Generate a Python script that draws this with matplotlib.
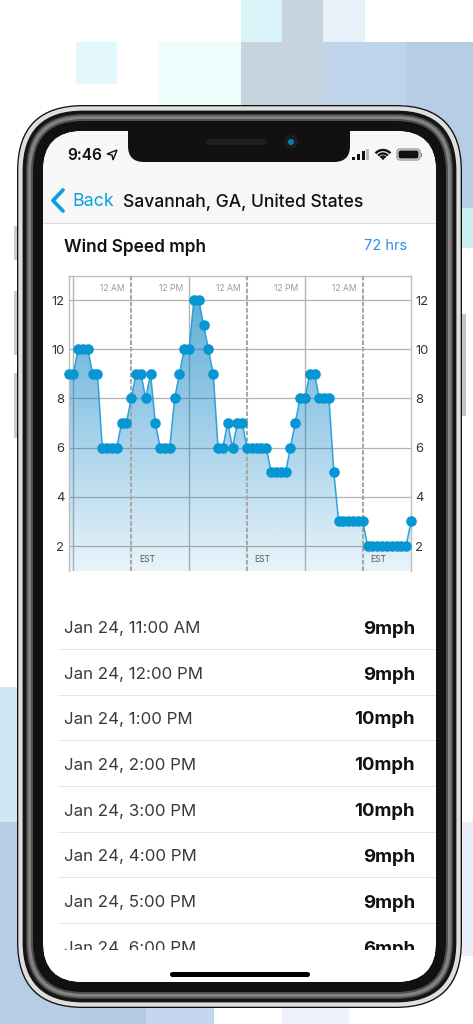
import numpy as np
import matplotlib
matplotlib.use("Agg")
import matplotlib.pyplot as plt
from matplotlib.patches import FancyBboxPatch, Rectangle, Polygon, Circle, Arc

plt.rcParams['font.family'] = ['Inter', 'DejaVu Sans']

# one reading per hour, starting Jan 24 11:00 AM
wind_speed = [9, 9, 10, 10, 10, 9, 9, 6, 6, 6, 6, 7, 7, 8, 9, 9, 8, 9, 7, 6, 6, 6, 8, 9,
              10, 10, 12, 12, 11, 10, 9, 6, 6, 7, 6, 7, 7, 6, 6, 6, 6, 6, 5, 5, 5, 5, 6, 7,
              8, 8, 9, 9, 8, 8, 8, 5, 3, 3, 3, 3, 3, 3, 2, 2, 2, 2, 2, 2, 2, 2, 2, 3]
noon_hours = [1, 25, 49]
midnight_hours = [13, 37, 61]
y_ticks = [2, 4, 6, 8, 10, 12]
top_labels = [(13, '12 AM'), (25, '12 PM'), (37, '12 AM'), (49, '12 PM'), (61, '12 AM')]
row_times = ['Jan 24, 11:00 AM', 'Jan 24, 12:00 PM', 'Jan 24, 1:00 PM', 'Jan 24, 2:00 PM',
             'Jan 24, 3:00 PM', 'Jan 24, 4:00 PM', 'Jan 24, 5:00 PM', 'Jan 24, 6:00 PM']
row_speeds = wind_speed[:8]

W, H = 473, 1024
fig = plt.figure(figsize=(W / 100, H / 100), dpi=100, facecolor='white')

# full page axes in pixels for the phone mockup
page = fig.add_axes([0, 0, 1, 1])
page.set_xlim(0, W)
page.set_ylim(H, 0)
page.axis('off')


def px(size):
    return size * 0.72


def rect(x0, y0, x1, y1, color, z=1):
    r = Rectangle((x0, y0), x1 - x0, y1 - y0, facecolor=color, edgecolor='none', zorder=z)
    page.add_patch(r)
    return r


def rbox(x0, y0, x1, y1, radius, color, z=2):
    b = FancyBboxPatch((x0, y0), x1 - x0, y1 - y0, boxstyle=f"round,pad=0,rounding_size={radius}",
                       facecolor=color, edgecolor='none', zorder=z)
    page.add_patch(b)
    return b


def label(x, y, s, size, color='black', ha='left', weight='normal', z=8):
    return page.text(x, y, s, fontsize=px(size), color=color, ha=ha, va='center_baseline',
                     fontweight=weight, zorder=z)


# background tiles
for t in [(241, 0, 282, 42, '#d9f4f8'), (282, 0, 323, 42, '#c6d4de'), (323, 0, 365, 42, '#e8f1f9'),
          (76, 42, 117, 84, '#e3f8fb'), (158, 42, 241, 105, '#eefcfc'), (241, 42, 323, 105, '#c6d4de'),
          (323, 42, 406, 105, '#bfd3ea'), (406, 42, 473, 208, '#b7cce5'), (462, 208, 473, 248, '#c9f0f0'),
          (0, 687, 17, 822, '#cfe8f5'), (0, 822, 79, 1024, '#b7cce5'), (79, 960, 146, 1024, '#b5cbe2'),
          (146, 960, 214, 1024, '#c5d7ee'), (282, 1000, 349, 1024, '#edf2fb'), (462, 822, 473, 956, '#e8effa')]:
    rect(*t)

# side buttons
for y0, y1 in [(226, 260), (291, 355), (373, 438)]:
    rect(13.5, y0, 18, y1, '#cccccc')
rect(461, 314, 466, 416, '#c4c4c4')

# bezel rings, outside in
L, T, R, B = 17, 105, 462, 1008
for inset, c in [(0, '#111111'), (1.3, '#dedede'), (5.6, '#141414'), (9, '#444444'), (10.5, '#777777'),
                 (12, '#858585'), (14, '#505050'), (16, '#111111')]:
    rbox(L + inset, T + inset, R - inset, B - inset, 66 - inset, c, z=2)
screen = rbox(43, 131, 436, 982, 40, 'white', z=3)

# nav bar
nav = rect(43, 131, 436, 223, '#f7f7f7', z=4)
nav.set_clip_path(screen)
rect(43, 223, 436, 224, '#dcdcdc', z=4)

# notch, speaker, camera
rbox(128, 122, 350, 162, 16, '#111111', z=5)
rect(128, 122, 350, 140, '#111111', z=5)
rbox(206, 139, 267, 145, 3, '#1e1e1e', z=6)
page.add_patch(Circle((291, 142), 7, facecolor='#1a1d22', edgecolor='none', zorder=6))
page.add_patch(Circle((291, 142), 3, facecolor='#0a7fa8', edgecolor='none', zorder=7))

# status bar
label(67, 154, '9:46', 15.5, '#111111', weight='semibold')
page.add_patch(Polygon([(107, 154), (117, 150), (113, 160), (112, 155)], closed=True, facecolor='none',
                       edgecolor='#111111', lw=1, zorder=8))
for x0, y0, c in [(352, 157, '#111111'), (357, 154, '#111111'), (362, 151, '#111111'), (366, 149, '#bbbbbb')]:
    rect(x0, y0, x0 + 3.2, 160, c, z=8)
for d in [20, 13, 7]:
    page.add_patch(Arc((383, 160), d, d, theta1=222, theta2=318, color='#111111', lw=1.7, zorder=8))
page.add_patch(Circle((383, 158.5), 1.3, facecolor='#111111', edgecolor='none', zorder=8))
b = rbox(397, 149, 420, 160, 3, 'none', z=8)
b.set_edgecolor('#888888')
b.set_linewidth(0.8)
rbox(398.5, 150.5, 418.5, 158.5, 2, '#111111', z=9)
rect(421, 152.5, 422, 156.5, '#888888', z=8)

# nav title
page.plot([63, 53, 63], [190, 200.5, 211], color='#0aa0dc', lw=2.7, solid_capstyle='round', zorder=8)
label(72, 200, 'Back', 17.8, '#0aa0dc')
label(123, 200, 'Savannah, GA, United States', 17.5, '#111111', weight='medium')

# chart heading
label(64, 245, 'Wind Speed mph', 17.3, '#111111', weight='semibold')
label(407, 245, '72 hrs', 14.5, '#2b8ef0', ha='right')

# hourly rows
row_y = [627, 673, 718, 764, 810, 855, 901, 947]
for i in range(len(row_times)):
    label(64, row_y[i], row_times[i], 16.9, '#3a3a3a')
    label(415, row_y[i], f'{row_speeds[i]}mph', 18.5, '#111111', ha='right', weight='bold')
    if i < len(row_times) - 1:
        rect(58, row_y[i] + 21.5, 436, row_y[i] + 22.5, '#e6e6e6', z=4)
rect(43, 950, 436, 982, 'white', z=9).set_clip_path(screen)
rbox(170, 972, 310, 977, 2.5, 'black', z=10)

# chart
ax = fig.add_axes([68.5 / W, 1 - 571 / H, (411 - 68.5) / W, (571 - 276) / H], zorder=5)
ax.patch.set_alpha(0)
hours = np.arange(len(wind_speed))
y_min, y_max = 0.984, 12.976

for s in ['left', 'right', 'top']:
    ax.spines[s].set_color('#bdbdbd')
    ax.spines[s].set_linewidth(1)
ax.spines['bottom'].set_visible(False)

ax.set_yticks(y_ticks)
ax.set_xticks([])
ax.tick_params(axis='y', length=0, labelsize=px(13), labelcolor='#333333', left=False, right=False,
               labelleft=True, labelright=True, pad=3)
ax.grid(axis='y', color='#b2b2b2', lw=0.9, zorder=1)
ax.set_axisbelow(True)

for h in noon_hours:
    ax.axvline(h, color='#b4b4b4', lw=1, zorder=1)
for h in midnight_hours:
    ax.axvline(h, color='#a8a8a8', lw=1.5, ls=(0, (2.2, 0.9)), zorder=4)

# vertical gradient under the line
alpha = np.linspace(0.67, 0.09, 256)
grad = np.zeros((256, 1, 4))
grad[:, 0, 0] = 0 / 255
grad[:, 0, 1] = 125 / 255
grad[:, 0, 2] = 195 / 255
grad[:, 0, 3] = alpha
im = ax.imshow(grad, extent=(0, len(wind_speed) - 1, y_min, y_max), origin='upper', aspect='auto', zorder=2)
area = Polygon(np.column_stack([np.r_[hours, hours[-1], 0], np.r_[wind_speed, y_min, y_min]]),
               closed=True, facecolor='none', edgecolor='none')
ax.add_patch(area)
im.set_clip_path(area)

ax.plot(hours, wind_speed, color='#2ba2da', lw=1.1, zorder=5, clip_on=False)
ax.plot(hours, wind_speed, ls='none', marker='o', ms=7.6, mfc='#0596d3', mec='none', zorder=6, clip_on=False)

for h, s in top_labels:
    ax.annotate(s, xy=(h, 12.45), xytext=(-4.5, 0), textcoords='offset points', ha='right', va='center',
                fontsize=px(8.6), color='#9a9a9a')
for h in midnight_hours:
    ax.annotate('EST', xy=(h, 1.47), xytext=(5.5, 0), textcoords='offset points', ha='left', va='center',
                fontsize=px(8.5), color='#555555')

ax.set_xlim(0, len(wind_speed) - 1)
ax.set_ylim(y_min, y_max)

fig.savefig('out.png', dpi=100)
